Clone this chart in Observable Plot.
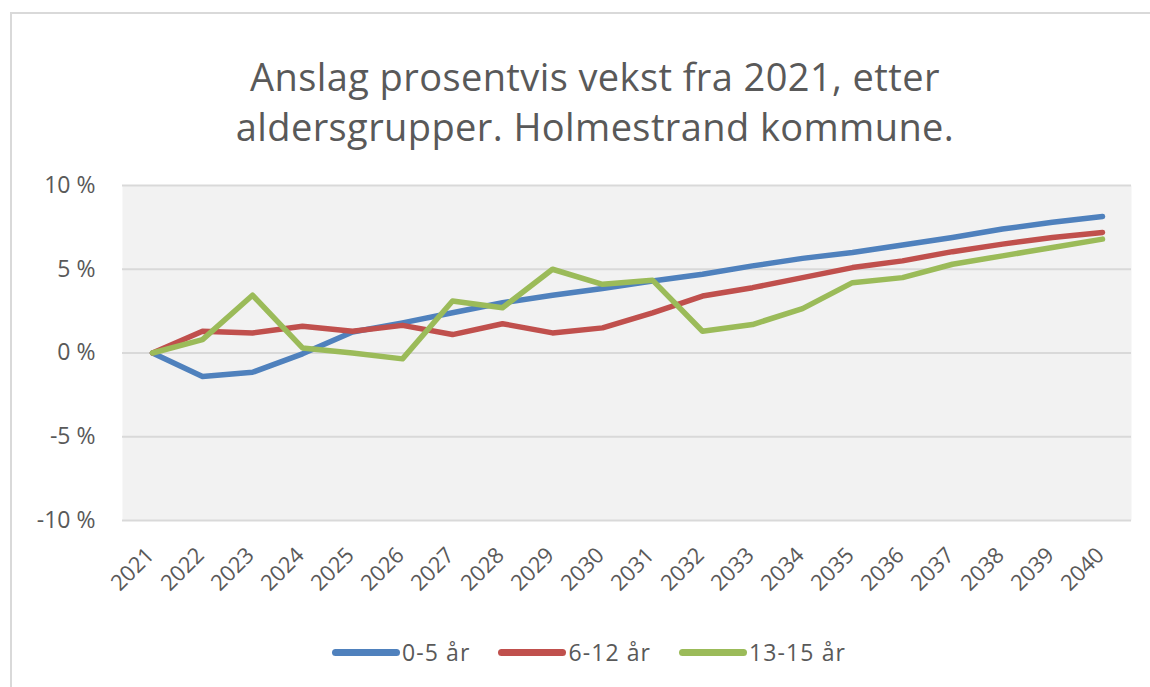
<!DOCTYPE html>
<html>
<head>
<meta charset="utf-8">
<script src="https://cdn.jsdelivr.net/npm/d3@7"></script>
<script src="https://cdn.jsdelivr.net/npm/@observablehq/plot@0.6"></script>
<style>
  html, body { margin: 0; padding: 0; background: #fff; }
  body { width: 1150px; height: 687px; position: relative; overflow: hidden; font-family: "Open Sans", sans-serif; color: #595959; }
  #frame { position: absolute; left: 10px; top: 12px; width: 1200px; height: 720px; border: 2px solid #d9d9d9; box-sizing: border-box; }
  #title { position: absolute; left: 0; width: 1190px; top: 51px; text-align: center; font-size: 38px; letter-spacing: 0.4px; line-height: 50px; color: #595959; white-space: nowrap; }
  #chart { position: absolute; left: 0; top: 165px; }
  #legend { position: absolute; left: 0; width: 1178px; top: 637px; height: 30px; line-height: 30px; display: flex; justify-content: center; align-items: center; font-size: 23px; letter-spacing: 1.1px; }
  .item { display: flex; align-items: center; margin: 0 14px; }
  .sw { width: 68px; height: 7px; border-radius: 3.5px; margin-right: 2px; }
</style>
</head>
<body>
<div id="frame"></div>
<div id="title">Anslag prosentvis vekst fra 2021, etter<br>aldersgrupper. Holmestrand kommune.</div>
<div id="chart"></div>
<div id="legend"></div>
<script>
const years = ["2021","2022","2023","2024","2025","2026","2027","2028","2029","2030","2031","2032","2033","2034","2035","2036","2037","2038","2039","2040"];
const seriesNames = ["0-5 år", "6-12 år", "13-15 år"];
const seriesColors = ["#4f81bd", "#c0504d", "#9bbb59"];
const vals0_5   = [0, -1.4, -1.15, -0.05, 1.25, 1.8, 2.4, 3.0, 3.45, 3.85, 4.3, 4.7, 5.2, 5.65, 6.0, 6.45, 6.9, 7.4, 7.8, 8.15];
const vals6_12  = [0, 1.3, 1.2, 1.6, 1.3, 1.65, 1.1, 1.75, 1.2, 1.5, 2.4, 3.4, 3.9, 4.5, 5.1, 5.5, 6.05, 6.5, 6.9, 7.2];
const vals13_15 = [0, 0.8, 3.45, 0.3, 0.0, -0.35, 3.1, 2.7, 5.0, 4.1, 4.35, 1.3, 1.7, 2.65, 4.2, 4.5, 5.3, 5.8, 6.3, 6.8];
const yTicks = [-10, -5, 0, 5, 10];

const allVals = [vals0_5, vals6_12, vals13_15];
const data = [];
seriesNames.forEach((s, i) => years.forEach((yr, j) => data.push({year: yr, value: allVals[i][j], series: s})));

const chart = Plot.plot({
  width: 1150,
  height: 450,
  marginTop: 20,
  marginBottom: 95,
  marginLeft: 122,
  marginRight: 19,
  style: { fontFamily: "'Open Sans', sans-serif", fontSize: "22px", color: "#595959", background: "transparent", overflow: "visible" },
  x: { type: "point", domain: years, padding: 0.5 },
  y: { domain: [-10, 10] },
  color: { domain: seriesNames, range: seriesColors },
  marks: [
    Plot.frame({ fill: "#f2f2f2", stroke: null }),
    Plot.ruleY(yTicks, { stroke: "#d9d9d9", strokeWidth: 2 }),
    Plot.axisY({ ticks: yTicks, tickFormat: d => d + " %", tickSize: 0, tickPadding: 27, label: null, fontSize: 23 }),
    Plot.axisX({ tickRotate: -45, tickSize: 0, tickPadding: 31, dx: -2, label: null, fontSize: 22 }),
    Plot.line(data, { x: "year", y: "value", z: "series", stroke: "series", strokeWidth: 5.5, strokeLinejoin: "round", strokeLinecap: "round" })
  ]
});
document.getElementById("chart").appendChild(chart);

const legend = document.getElementById("legend");
seriesNames.forEach((s, i) => {
  const item = document.createElement("div");
  item.className = "item";
  const sw = document.createElement("div");
  sw.className = "sw";
  sw.style.background = seriesColors[i];
  const lab = document.createElement("span");
  lab.textContent = s;
  item.appendChild(sw);
  item.appendChild(lab);
  legend.appendChild(item);
});
</script>
</body>
</html>
